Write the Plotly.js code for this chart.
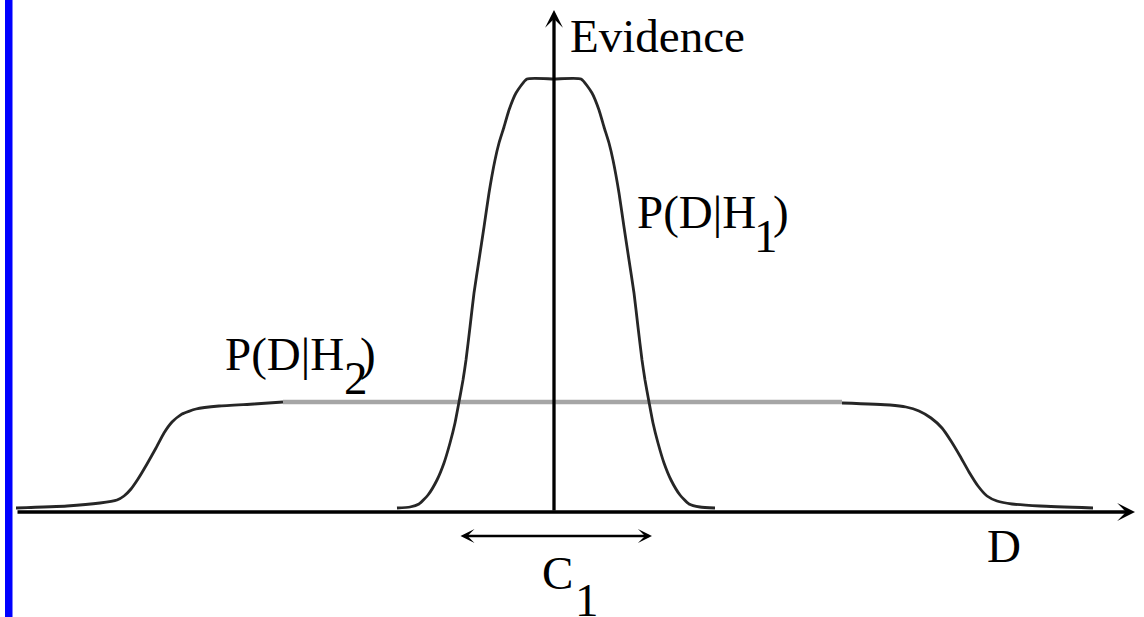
<!DOCTYPE html>
<html lang="en">
<head>
    <meta charset="UTF-8">
    <title>Evidence: P(D|H1) vs P(D|H2)</title>
    <script src="https://cdn.plot.ly/plotly-3.0.1.min.js"></script>
    <style>
        html, body {
            margin: 0;
            padding: 0;
            background: #fff;
        }
        #chart {
            width: 1144px;
            height: 617px;
        }
    </style>
</head>
<body>
    <div id="chart"></div>

    <script>
        // values (x: distance from the Evidence axis, y: height above D axis)
        const h1X = [-157, -144, -135, -126, -117, -110, -104, -99, -95, -91, -88, -84, -80, -75, -70, -65, -59, -55, -50, -45, -38, -27,
                     0, 27, 38, 45, 50, 55, 59, 65, 70, 75, 80, 84, 88, 91, 95, 99, 104, 110, 117, 126, 135, 146, 161];
        const h1Y = [4, 5, 8, 17, 32, 49, 69, 89, 110, 132, 152, 185, 219, 252, 285, 319, 352, 369, 385, 402, 419, 433,
                     433, 433, 419, 402, 385, 369, 352, 319, 285, 252, 219, 185, 152, 132, 110, 89, 69, 49, 32, 17, 8, 5, 4];

        // P(D|H2): dark shoulders, pale plateau
        const h2LeftX = [-538, -487, -454, -437, -430, -423, -416, -407, -398, -390, -382, -372, -358, -335, -300, -271];
        const h2LeftY = [4, 6, 9, 12, 16, 23, 33, 48, 64, 79, 90, 98, 103, 106, 108, 110];
        const h2FlatX = [-271, 0, 288];
        const h2FlatY = [110, 110, 110];
        const h2RightX = [288, 336, 352, 365, 377, 388, 397, 406, 415, 424, 433, 443, 458, 486, 539];
        const h2RightY = [109, 107, 105, 101, 94, 84, 71, 56, 40, 26, 16, 11, 8, 6, 4];

        // axes and the C1 interval
        const dAxis = [-538, 581];
        const evidenceTop = 502;
        const c1Range = [-95, 98];
        const c1Level = -24;

        const dark = '#262626';
        const serif = '"Liberation Serif", "Times New Roman", serif';

        const curve = (x, y) => ({
            x: x, y: y, mode: 'lines',
            line: { color: dark, width: 2.8, shape: 'spline', smoothing: 0.5 }
        });

        const traces = [
            { x: h2FlatX, y: h2FlatY, mode: 'lines', line: { color: '#a6a6a6', width: 4.5 } },
            curve(h2LeftX, h2LeftY),
            curve(h2RightX, h2RightY),
            curve(h1X, h1Y)
        ];

        const arrow = (x, y, ax, ay, extra) => Object.assign({
            x: x, y: y, ax: ax, ay: ay,
            xref: 'x', yref: 'y', axref: 'x', ayref: 'y',
            text: '', showarrow: true,
            arrowhead: 3, arrowsize: 0.9, arrowwidth: 3.3, arrowcolor: '#000',
            standoff: 0, startstandoff: 0, font: { size: 1 }
        }, extra || {});

        const label = (text, x, y, xanchor, size) => ({
            text: text, x: x, y: y, xref: 'x', yref: 'y',
            xanchor: xanchor, yanchor: 'middle', showarrow: false,
            font: { family: serif, size: size || 47, color: '#000' }
        });

        const annotations = [
            arrow(dAxis[1], 0, dAxis[0], 0),
            arrow(0, evidenceTop, 0, 0),
            arrow(c1Range[1], c1Level, c1Range[0], c1Level, {
                arrowside: 'end+start', startarrowhead: 3, startarrowsize: 0.9, arrowwidth: 2.6
            }),
            label('Evidence', 14, 476, 'left', 47),
            label('P(D|H', 81, 300, 'left'),
            label('1', 212, 276, 'center'),
            label(')', 217, 300, 'left'),
            label('P(D|H', -331, 158, 'left'),
            label('2', -198, 134, 'center'),
            label(')', -196, 158, 'left'),
            label('C', -14, -61, 'left'),
            label('1', 33, -88, 'center'),
            label('D', 431, -34, 'left')
        ];

        const layout = {
            width: 1144,
            height: 617,
            margin: { l: 0, r: 0, t: 0, b: 0 },
            paper_bgcolor: '#fff',
            plot_bgcolor: '#fff',
            showlegend: false,
            xaxis: { range: [-554, 590], visible: false },
            yaxis: { range: [-105, 512], visible: false },
            shapes: [
                // blue bar on the left edge
                { type: 'rect', xref: 'paper', yref: 'paper', x0: 5 / 1144, x1: 12.5 / 1144, y0: 0, y1: 1,
                  fillcolor: '#0000ff', line: { width: 0 } }
            ],
            annotations: annotations
        };

        Plotly.newPlot('chart', traces, layout, { displayModeBar: false, staticPlot: true });
    </script>
</body>
</html>
